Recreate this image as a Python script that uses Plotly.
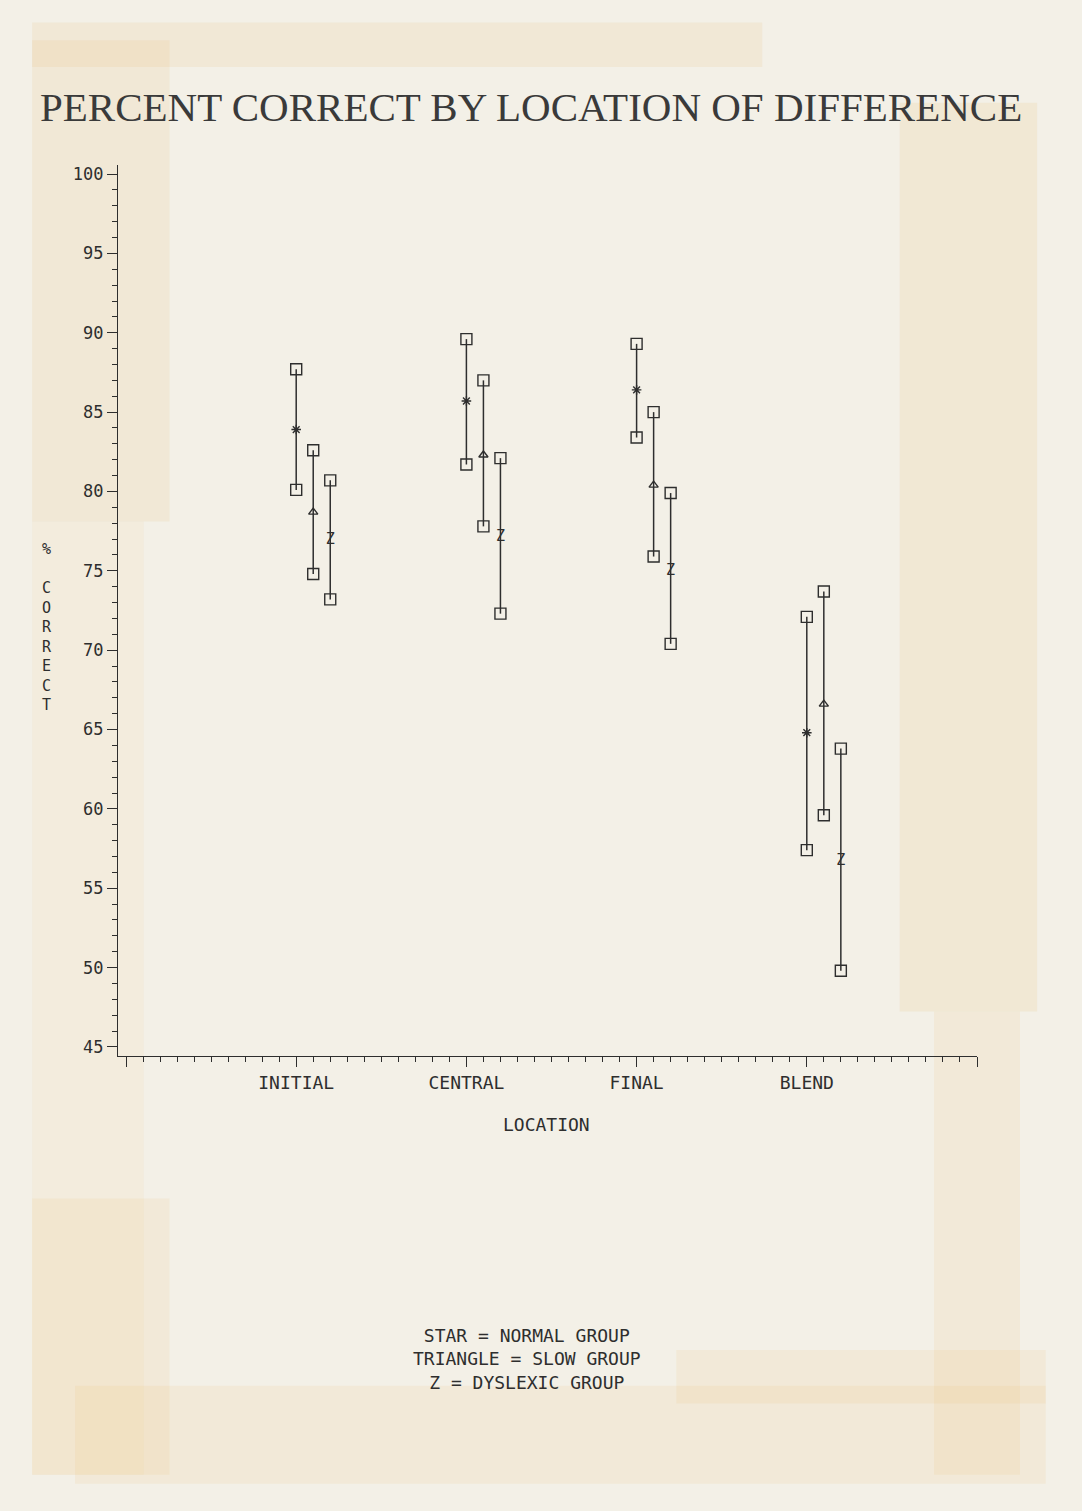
import plotly.graph_objects as go

# ---- data ----
locations = ["INITIAL", "CENTRAL", "FINAL", "BLEND"]
groups = ["NORMAL", "SLOW", "DYSLEXIC"]

normal_mid = [83.9, 85.7, 86.4, 64.8]
normal_hi = [87.7, 89.6, 89.3, 72.1]
normal_lo = [80.1, 81.7, 83.4, 57.4]

slow_mid = [78.7, 82.3, 80.4, 66.6]
slow_hi = [82.6, 87.0, 85.0, 73.7]
slow_lo = [74.8, 77.8, 75.9, 59.6]

dys_mid = [76.9, 77.1, 75.0, 56.7]
dys_hi = [80.7, 82.1, 79.9, 63.8]
dys_lo = [73.2, 72.3, 70.4, 49.8]

y_ticks = [45, 50, 55, 60, 65, 70, 75, 80, 85, 90, 95, 100]

INK = "#2e2e2e"
PAPER = "#f3f0e7"
MONO = "DejaVu Sans Mono"

series = [
    (normal_mid, normal_hi, normal_lo, 0.0, "asterisk-open"),
    (slow_mid, slow_hi, slow_lo, 0.1, "triangle-up-open"),
    (dys_mid, dys_hi, dys_lo, 0.2, "Z"),
]

fig = go.Figure()
for mid, hi, lo, off, sym in series:
    xs = [i + 1 + off for i in range(len(locations))]
    err_up = [h - m for h, m in zip(hi, mid)]
    err_dn = [m - l for m, l in zip(mid, lo)]
    common = dict(
        x=xs, y=mid, showlegend=False, hoverinfo="skip",
        error_y=dict(type="data", symmetric=False, array=err_up, arrayminus=err_dn,
                     color=INK, thickness=1.5, width=0),
    )
    if sym == "Z":
        fig.add_trace(go.Scatter(mode="text", text=["Z"] * len(xs),
                                 textfont=dict(family=MONO, size=15, color=INK),
                                 textposition="middle center", **common))
    else:
        fig.add_trace(go.Scatter(mode="markers",
                                 marker=dict(symbol=sym, size=8, color=INK,
                                             line=dict(color=INK, width=1.4)),
                                 **common))
    # end squares
    fig.add_trace(go.Scatter(x=xs + xs, y=hi + lo, mode="markers", showlegend=False,
                             hoverinfo="skip",
                             marker=dict(symbol="square-open", size=11, color=INK,
                                         line=dict(color=INK, width=1.4))))

# ---- paper stains (decorative background) ----
stains = [
    (-0.10, 0.06, 0.60, 1.14, 0.14),
    (-0.10, 0.03, -0.47, 0.60, 0.08),
    (-0.10, 0.06, -0.47, -0.16, 0.12),
    (-0.10, 0.75, 1.11, 1.16, 0.14),
    (0.91, 1.07, 0.05, 1.07, 0.15),
    (0.95, 1.05, -0.47, 0.05, 0.12),
    (-0.05, 1.08, -0.48, -0.37, 0.12),
    (0.65, 1.08, -0.39, -0.33, 0.12),
]
for x0, x1, y0, y1, op in stains:
    fig.add_shape(type="rect", xref="paper", yref="paper", x0=x0, x1=x1, y0=y0, y1=y1,
                  fillcolor=f"rgba(236,186,110,{op})", line=dict(width=0), layer="below")

fig.update_layout(
    width=1082, height=1511,
    paper_bgcolor=PAPER, plot_bgcolor="rgba(0,0,0,0)",
    margin=dict(l=118, r=105, t=165, b=455),
    font=dict(family=MONO, color=INK),
    xaxis=dict(
        range=[-0.047, 5.0], showgrid=False, zeroline=False,
        showline=True, linecolor=INK, linewidth=1.3,
        tickmode="array", tickvals=[0, 1, 2, 3, 4, 5],
        ticktext=[""] + locations + [""],
        ticks="outside", ticklen=10, tickwidth=1.3, tickcolor=INK,
        tickfont=dict(family=MONO, size=18, color=INK),
        minor=dict(dtick=0.1, tick0=0, ticks="outside", ticklen=5, tickwidth=1, tickcolor=INK),
    ),
    yaxis=dict(
        range=[44.43, 100.57], showgrid=False, zeroline=False,
        showline=True, linecolor=INK, linewidth=1.3,
        tickmode="array", tickvals=y_ticks,
        ticks="outside", ticklen=10, tickwidth=1.3, tickcolor=INK,
        tickfont=dict(family=MONO, size=17, color=INK),
        minor=dict(dtick=1, tick0=45, ticks="outside", ticklen=5, tickwidth=1, tickcolor=INK),
    ),
    annotations=[
        dict(text="PERCENT CORRECT BY LOCATION OF DIFFERENCE", xref="paper", yref="paper",
             x=0.481, y=1.065, xanchor="center", yanchor="middle", showarrow=False,
             font=dict(family="Liberation Serif", size=41, color="#3a3a3a")),
        dict(text="LOCATION", xref="paper", yref="paper", x=0.4994, y=-0.0774,
             xanchor="center", yanchor="middle", showarrow=False,
             font=dict(family=MONO, size=18, color=INK)),
        dict(text="%<br><br>C<br>O<br>R<br>R<br>E<br>C<br>T", xref="paper", yref="paper",
             x=-0.0827, y=0.482, xanchor="center", yanchor="middle", showarrow=False,
             font=dict(family=MONO, size=15, color=INK)),
        dict(text="STAR = NORMAL GROUP<br>TRIANGLE = SLOW GROUP<br>Z = DYSLEXIC GROUP",
             xref="paper", yref="paper", x=0.476, y=-0.340, xanchor="center",
             yanchor="middle", align="center", showarrow=False,
             font=dict(family=MONO, size=18, color=INK)),
    ],
)

fig.write_html(
    "out.html",
    config={"displayModeBar": False},
    post_script="document.body.style.margin='0';document.body.style.background='#f3f0e7';",
)
